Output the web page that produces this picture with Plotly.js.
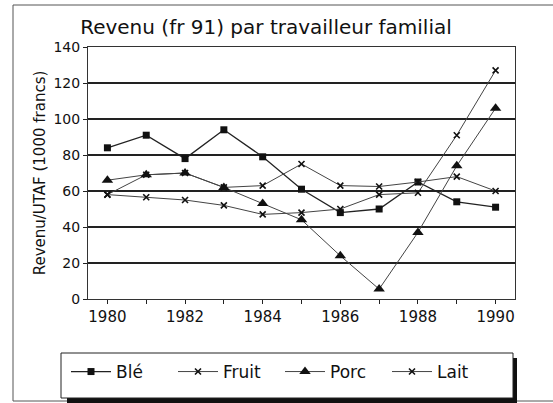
<!DOCTYPE html>
<html>
<head>
<meta charset="utf-8">
<script src="https://cdn.plot.ly/plotly-3.0.1.min.js"></script>
<style>html,body{margin:0;padding:0;background:#fff;}#chart{width:553px;height:403px;}</style>
</head>
<body>
<div id="chart"></div>
<script>
const years = [1980, 1981, 1982, 1983, 1984, 1985, 1986, 1987, 1988, 1989, 1990];
const ble   = [84, 91, 78, 94, 79, 61, 48, 50, 65, 54, 51];
const fruit = [58, 69, 70, 62, 63, 75, 63, 62.5, 65, 68, 60];
const porc  = [66, 69, 70, 62, 53, 44, 24, 5.5, 37, 74, 106];
const lait  = [58, 56.5, 55, 52, 47, 48, 50, 58, 59, 91, 127];
const xTickVals = [1980, 1982, 1984, 1986, 1988, 1990];
const xTickText = ['1980', '1982', '1984', '1986', '1988', '1990'];
const yTickVals = [0, 20, 40, 60, 80, 100, 120, 140];

const FONT = 'DejaVu Sans, sans-serif';
const L = 88, R = 38, T = 47, B = 104, W = 553, H = 403;
const pw = W - L - R, ph = H - T - B;
const px = v => (v - L) / pw;
const py = v => (H - B - v) / ph;

const traces = [
  {name: 'Blé', x: years, y: ble, mode: 'lines+markers',
   line: {color: '#222', width: 1.3}, marker: {symbol: 'square', size: 7, color: '#111'}},
  {name: 'Fruit', x: years, y: fruit, mode: 'lines+markers',
   line: {color: '#444', width: 1}, marker: {symbol: 'x-thin', size: 6, color: '#111', line: {width: 1.6, color: '#111'}}},
  {name: 'Porc', x: years, y: porc, mode: 'lines+markers',
   line: {color: '#444', width: 1}, marker: {symbol: 'triangle-up', size: 10, color: '#111'}},
  {name: 'Lait', x: years, y: lait, mode: 'lines+markers',
   line: {color: '#444', width: 1}, marker: {symbol: 'x-thin', size: 6, color: '#111', line: {width: 1.6, color: '#111'}}}
];

const layout = {
  width: W, height: H,
  margin: {l: L, r: R, t: T, b: B, pad: 0},
  paper_bgcolor: '#fff', plot_bgcolor: '#fff',
  font: {family: FONT, color: '#111', size: 15},
  title: {text: 'Revenu (fr 91) par travailleur familial', font: {family: FONT, size: 20, color: '#111'},
          xref: 'container', yref: 'container', x: 0.481, xanchor: 'center', y: 1 - 27 / H, yanchor: 'middle'},
  xaxis: {range: [1979.5, 1990.5], tickvals: xTickVals, ticktext: xTickText,
          ticks: 'outside', ticklen: 4, tickcolor: '#222', showgrid: false, zeroline: false,
          showline: true, linecolor: '#333', linewidth: 1, mirror: true,
          minor: {dtick: 1, tick0: 1980, ticks: 'outside', ticklen: 4, tickcolor: '#222', showgrid: false},
          tickfont: {family: FONT, size: 15, color: '#111'}},
  yaxis: {range: [0, 140], tickvals: yTickVals, ticks: 'outside', ticklen: 4, tickcolor: '#222',
          showgrid: true, gridcolor: '#222', gridwidth: 1.2, zeroline: false,
          showline: true, linecolor: '#333', linewidth: 1, mirror: true,
          tickfont: {family: FONT, size: 14, color: '#111'},
          title: {text: 'Revenu/UTAF (1000 francs)', font: {family: FONT, size: 15, color: '#111'}, standoff: 4}},
  showlegend: true,
  legend: {orientation: 'h', x: px(66), xanchor: 'left', y: py(372), yanchor: 'middle',
           bgcolor: 'rgba(0,0,0,0)', borderwidth: 0, itemwidth: 40,
           entrywidthmode: 'pixels', entrywidth: 52,
           font: {family: FONT, size: 17, color: '#111'}},
  shapes: [
    {type: 'rect', xref: 'paper', yref: 'paper', x0: px(13), x1: px(600), y0: py(401), y1: py(5),
     line: {color: '#555', width: 1}, fillcolor: 'rgba(0,0,0,0)', layer: 'below'},
    {type: 'rect', xref: 'paper', yref: 'paper', x0: px(67), x1: px(517), y0: py(405), y1: py(358),
     line: {width: 0}, fillcolor: '#111', layer: 'above'},
    {type: 'rect', xref: 'paper', yref: 'paper', x0: px(61), x1: px(513), y0: py(398), y1: py(353),
     line: {color: '#222', width: 1}, fillcolor: '#fff', layer: 'above'}
  ]
};

Plotly.newPlot('chart', traces, layout, {displayModeBar: false, staticPlot: true});
</script>
</body>
</html>
